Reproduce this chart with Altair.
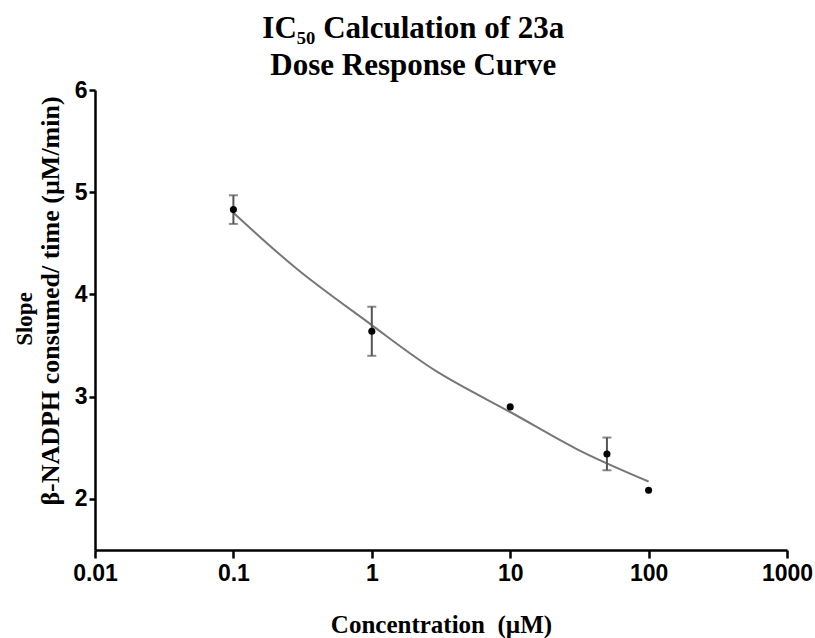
import altair as alt
import pandas as pd

# Measured points
conc = [0.1, 1, 10, 50, 100]
resp = [4.83, 3.64, 2.90, 2.44, 2.085]

# Error bars (only where visible)
err_conc = [0.1, 1, 50]
err_lo = [4.69, 3.40, 2.28]
err_hi = [4.97, 3.88, 2.60]

# Fitted curve
fit_conc = [0.1, 0.3, 1, 3, 10, 30, 100]
fit_resp = [4.80, 4.23, 3.70, 3.24, 2.85, 2.49, 2.17]

x_ticks = [0.01, 0.1, 1, 10, 100, 1000]
y_ticks = [2, 3, 4, 5, 6]

y_title_1 = ["Slope"]
y_title_2 = ["β-NADPH consumed/ time (µM/min)"]

pts = pd.DataFrame({"conc": conc, "resp": resp})
errs = pd.DataFrame({"conc": err_conc, "lo": err_lo, "hi": err_hi})
fit = pd.DataFrame({"conc": fit_conc, "resp": fit_resp})

xscale = alt.Scale(type="log", domain=[0.01, 1000], nice=False)
yscale = alt.Scale(domain=[1.5, 6], nice=False, zero=False)

xaxis = alt.Axis(
    title="Concentration\u00a0 (µM)", values=x_ticks, format="~g",
    grid=False, domainColor="black", domainWidth=2.5, tickColor="black",
    tickWidth=2.5, tickSize=8, labelFont="Liberation Sans", labelFontWeight="bold",
    labelFontSize=23, labelColor="black", labelPadding=4, labelFlush=False,
    titleFont="Liberation Serif", titleFontWeight="bold", titleFontSize=25,
    titleColor="black", titlePadding=27,
)
yaxis = alt.Axis(
    title=None, values=y_ticks, format="d",
    grid=False, domainColor="black", domainWidth=2.5, tickColor="black",
    tickWidth=2.5, tickSize=6, labelFont="Liberation Sans", labelFontWeight="bold",
    labelFontSize=23, labelColor="black", labelPadding=2,
)

curve = alt.Chart(fit).mark_line(color="#777777", strokeWidth=2, interpolate="natural").encode(
    x=alt.X("conc:Q", scale=xscale, axis=xaxis),
    y=alt.Y("resp:Q", scale=yscale, axis=yaxis),
)
bars = alt.Chart(errs).mark_rule(color="#555555", strokeWidth=2).encode(
    x="conc:Q", y="lo:Q", y2="hi:Q"
)
cap_lo = alt.Chart(errs).mark_tick(color="#555555", thickness=2, size=9, orient="horizontal").encode(
    x="conc:Q", y="lo:Q"
)
cap_hi = alt.Chart(errs).mark_tick(color="#555555", thickness=2, size=9, orient="horizontal").encode(
    x="conc:Q", y="hi:Q"
)
dots = alt.Chart(pts).mark_circle(color="black", size=50, opacity=1).encode(
    x="conc:Q", y="resp:Q"
)

t1 = alt.Chart(pd.DataFrame({"t": y_title_1})).mark_text(
    font="Liberation Serif", fontWeight="bold", fontSize=23, angle=270,
    color="black", align="center", baseline="middle",
).encode(text="t:N", x=alt.value(-70), y=alt.value(229))
t2 = alt.Chart(pd.DataFrame({"t": y_title_2})).mark_text(
    font="Liberation Serif", fontWeight="bold", fontSize=26, angle=270,
    color="black", align="center", baseline="middle",
).encode(text="t:N", x=alt.value(-44), y=alt.value(211))

chart = alt.layer(curve, bars, cap_lo, cap_hi, dots, t1, t2).properties(
    width=692, height=460,
    background="white",
    title=alt.TitleParams(
        text=["IC₅₀ Calculation of 23a", "Dose Response Curve"],
        font="Liberation Serif", fontWeight="bold", fontSize=31, lineHeight=37,
        color="black", anchor="middle", frame="bounds", offset=-3,
    ),
    autosize=alt.AutoSizeParams(type="none"),
    padding={"left": 95, "top": 90, "right": 28, "bottom": 88},
).configure_view(stroke="transparent", strokeWidth=0)

chart.save("out.html", embed_options={"renderer": "svg", "actions": False})
